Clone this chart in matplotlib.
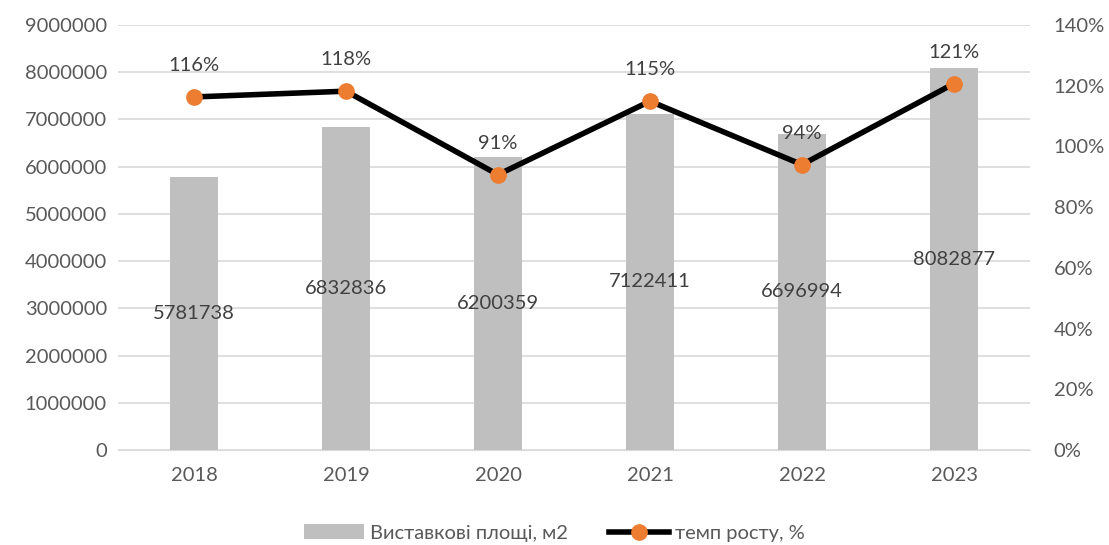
import matplotlib
matplotlib.use("Agg")
import matplotlib.pyplot as plt
from matplotlib.ticker import FuncFormatter, MultipleLocator

years = ["2018", "2019", "2020", "2021", "2022", "2023"]
areas = [5781738, 6832836, 6200359, 7122411, 6696994, 8082877]
growth = [1.163, 1.182, 0.907, 1.149, 0.940, 1.207]
growth_labels = ["116%", "118%", "91%", "115%", "94%", "121%"]

plt.rcParams['font.family'] = ['Lato', 'DejaVu Sans']
txt = '#595959'

fig = plt.figure(figsize=(11.09, 5.45), dpi=100)
ax = fig.add_axes([118/1109, 1-450/545, (1030-118)/1109, 425/545])
ax2 = ax.twinx()

x = list(range(len(years)))
bars = ax.bar(x, areas, width=0.32, color='#BFBFBF', zorder=2, label='Виставкові площі, м2')
for xi, v in zip(x, areas):
    ax.text(xi, v/2, str(v), ha='center', va='center', fontsize=14.5, color='#404040', zorder=3)

ax.set_ylim(0, 9000000)
ax.set_xlim(-0.5, 5.5)
ax.yaxis.set_major_locator(MultipleLocator(1000000))
ax.yaxis.set_major_formatter(FuncFormatter(lambda v, p: f"{int(v)}"))
ax.set_xticks(x)
ax.set_xticklabels(years)
ax.grid(axis='y', color='#D9D9D9', linewidth=1.2, zorder=0)
ax.set_axisbelow(True)

line, = ax2.plot(x, growth, color='black', linewidth=4, marker='o', markersize=11,
                 markerfacecolor='#ED7D31', markeredgecolor='#ED7D31', zorder=5,
                 label='темп росту, %')
for xi, g, lab in zip(x, growth, growth_labels):
    ax2.annotate(lab, (xi, g), xytext=(0, 22.5), textcoords='offset points',
                 ha='center', va='center', fontsize=14.5, color='#404040')
ax2.set_ylim(0, 1.4)
ax2.yaxis.set_major_locator(MultipleLocator(0.2))
ax2.yaxis.set_major_formatter(FuncFormatter(lambda v, p: f"{v*100:.0f}%"))

for a in (ax, ax2):
    for s in a.spines.values():
        s.set_visible(False)
    a.tick_params(length=0, labelsize=14.5, colors=txt)
ax.tick_params(axis='y', pad=8)
ax2.tick_params(axis='y', pad=17)
ax.tick_params(axis='x', pad=12)
ax.spines['bottom'].set_visible(True)
ax.spines['bottom'].set_color('#D9D9D9')

fig.legend(handles=[bars, line], loc='center', bbox_to_anchor=(0.5, 1-533/545),
           ncol=2, frameon=False, fontsize=14.5, labelcolor=txt, handlelength=3,
           columnspacing=2.0, handletextpad=0.3)

fig.savefig('out.png', dpi=100)
